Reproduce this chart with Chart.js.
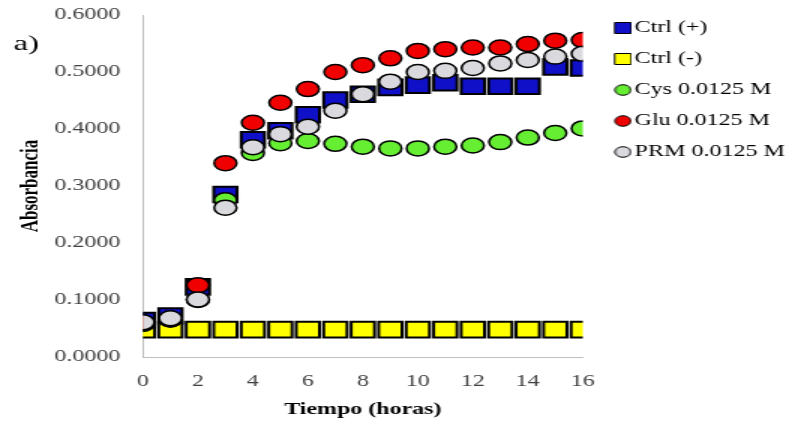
<!DOCTYPE html>
<html>
<head>
<meta charset="utf-8">
<script src="https://cdn.jsdelivr.net/npm/chart.js@4/dist/chart.umd.min.js"></script>
<style>
  html, body { margin: 0; padding: 0; background: #fff; overflow: hidden; width: 792px; height: 421px; }
  /* the figure is drawn narrow and widened horizontally, as in the published panel */
  #wrap { width: 524px; height: 421px; transform: scaleX(1.5); transform-origin: 0 0; }
</style>
</head>
<body>
<div id="wrap"><canvas id="c" width="524" height="421"></canvas></div>
<script>
// Absorbance readings over time (hours)
const hours = [0, 1, 2, 3, 4, 5, 6, 7, 8, 9, 10, 11, 12, 13, 14, 15, 16];
const ctrlPos = [0.064, 0.072, 0.123, 0.285, 0.381, 0.397, 0.425, 0.451, 0.461, 0.473, 0.477, 0.481, 0.475, 0.475, 0.475, 0.509, 0.507];
const ctrlNeg = [0.048, 0.048, 0.048, 0.048, 0.048, 0.048, 0.048, 0.048, 0.048, 0.048, 0.048, 0.048, 0.048, 0.048, 0.048, 0.048, 0.048];
const cys = [0.058, 0.066, 0.100, 0.275, 0.358, 0.375, 0.379, 0.374, 0.369, 0.366, 0.366, 0.369, 0.371, 0.377, 0.385, 0.393, 0.401];
const glu = [0.060, 0.066, 0.126, 0.340, 0.411, 0.446, 0.470, 0.500, 0.512, 0.524, 0.537, 0.540, 0.543, 0.543, 0.549, 0.555, 0.556];
const prm = [0.061, 0.068, 0.101, 0.262, 0.368, 0.391, 0.404, 0.432, 0.461, 0.483, 0.500, 0.502, 0.507, 0.515, 0.521, 0.527, 0.532];
const seriesLabels = ['Ctrl (+)', 'Ctrl (-)', 'Cys 0.0125 M', 'Glu 0.0125 M', 'PRM 0.0125 M'];
const yTicks = [0, 0.1, 0.2, 0.3, 0.4, 0.5, 0.6];

const serif = '"Liberation Serif", "Times New Roman", serif';
const pts = ys => hours.map((h, i) => ({ x: h, y: ys[i] }));

// small legend swatch: marker sits at the right of a transparent strip
function swatch(fill, shape) {
  const c = document.createElement('canvas');
  c.width = 24; c.height = 14;
  const g = c.getContext('2d');
  g.fillStyle = fill;
  g.strokeStyle = '#000';
  g.lineWidth = 1;
  g.beginPath();
  if (shape === 'rect') g.rect(12.5, 1.5, 11, 11);
  else g.arc(18, 7, 5.3, 0, Math.PI * 2);
  g.fill();
  g.stroke();
  return c;
}

function series(label, ys, fill, style, order) {
  const isRect = style === 'rect';
  return {
    label,
    data: pts(ys),
    showLine: false,
    pointStyle: style,
    pointRadius: isRect ? 11 : 7.5,
    pointBackgroundColor: fill,
    backgroundColor: fill,
    pointBorderColor: '#000',
    borderColor: '#000',
    pointBorderWidth: isRect ? 2 : 1.5,
    borderWidth: isRect ? 2 : 1.5,
    legendMark: swatch(fill, style),
    order
  };
}

// corner panel letter
const panelLetter = {
  id: 'panelLetter',
  afterDraw(chart) {
    const ctx = chart.ctx;
    ctx.save();
    ctx.font = '22px ' + serif;
    ctx.fillStyle = '#000';
    ctx.textBaseline = 'alphabetic';
    ctx.fillText('a)', 9, 50);
    ctx.restore();
  }
};

// let the legend box reach the canvas edge so the longest label is not cut
const legendRoom = {
  id: 'legendRoom',
  afterLayout(chart) {
    const lg = chart.legend;
    if (!lg) return;
    lg.right = chart.width;
    lg.width = lg.right - lg.left;
  }
};

new Chart(document.getElementById('c'), {
  type: 'scatter',
  data: {
    datasets: [
      series(seriesLabels[0], ctrlPos, '#1010C8', 'rect', 5),
      series(seriesLabels[1], ctrlNeg, '#FFFF00', 'rect', 4),
      series(seriesLabels[2], cys, '#66EE33', 'circle', 3),
      series(seriesLabels[3], glu, '#F00000', 'circle', 2),
      series(seriesLabels[4], prm, '#D9D9DE', 'circle', 1)
    ]
  },
  options: {
    responsive: false,
    animation: false,
    events: [],
    devicePixelRatio: 1,
    layout: { padding: { top: 5, right: 6, bottom: 0, left: 0 } },
    scales: {
      x: {
        type: 'linear',
        min: 0,
        max: 16,
        grid: { display: false, drawTicks: false },
        border: { display: true, color: '#BFBFBF', width: 1 },
        ticks: {
          stepSize: 2,
          padding: 15,
          color: '#404040',
          font: { family: serif, size: 16 }
        },
        title: {
          display: true,
          text: 'Tiempo (horas)',
          color: '#000',
          font: { family: serif, size: 16, weight: 'bold' },
          padding: { top: 0, bottom: 1.5 }
        },
        afterFit(scale) {
          scale.height = 64;
          scale.paddingLeft = 0;
          scale.paddingRight = 0;
        }
      },
      y: {
        min: 0,
        max: 0.6,
        afterBuildTicks(axis) { axis.ticks = yTicks.map(v => ({ value: v })); },
        grid: { display: false, drawTicks: false },
        border: { display: true, color: '#BFBFBF', width: 1 },
        ticks: {
          padding: 15,
          color: '#404040',
          font: { family: serif, size: 16 },
          callback: v => Number(v).toFixed(4)
        },
        title: {
          display: true,
          text: 'Absorbancia',
          color: '#000',
          font: { family: serif, size: 17, weight: 'bold' },
          padding: { top: 10, bottom: 0 }
        },
        afterFit(scale) {
          scale.width = 95.3;
          scale.paddingTop = 15;
          scale.paddingBottom = 0;
        }
      }
    },
    plugins: {
      tooltip: { enabled: false },
      legend: {
        position: 'right',
        align: 'start',
        labels: {
          usePointStyle: true,
          pointStyleWidth: 11.6,
          boxHeight: 10,
          padding: 15,
          color: '#000',
          font: { family: serif, size: 16 },
          sort: (a, b) => a.datasetIndex - b.datasetIndex,
          generateLabels(chart) {
            const items = Chart.defaults.plugins.legend.labels.generateLabels(chart);
            items.forEach(it => {
              it.pointStyle = chart.data.datasets[it.datasetIndex].legendMark;
            });
            return items;
          }
        }
      }
    }
  },
  plugins: [panelLetter, legendRoom]
});
</script>
</body>
</html>
